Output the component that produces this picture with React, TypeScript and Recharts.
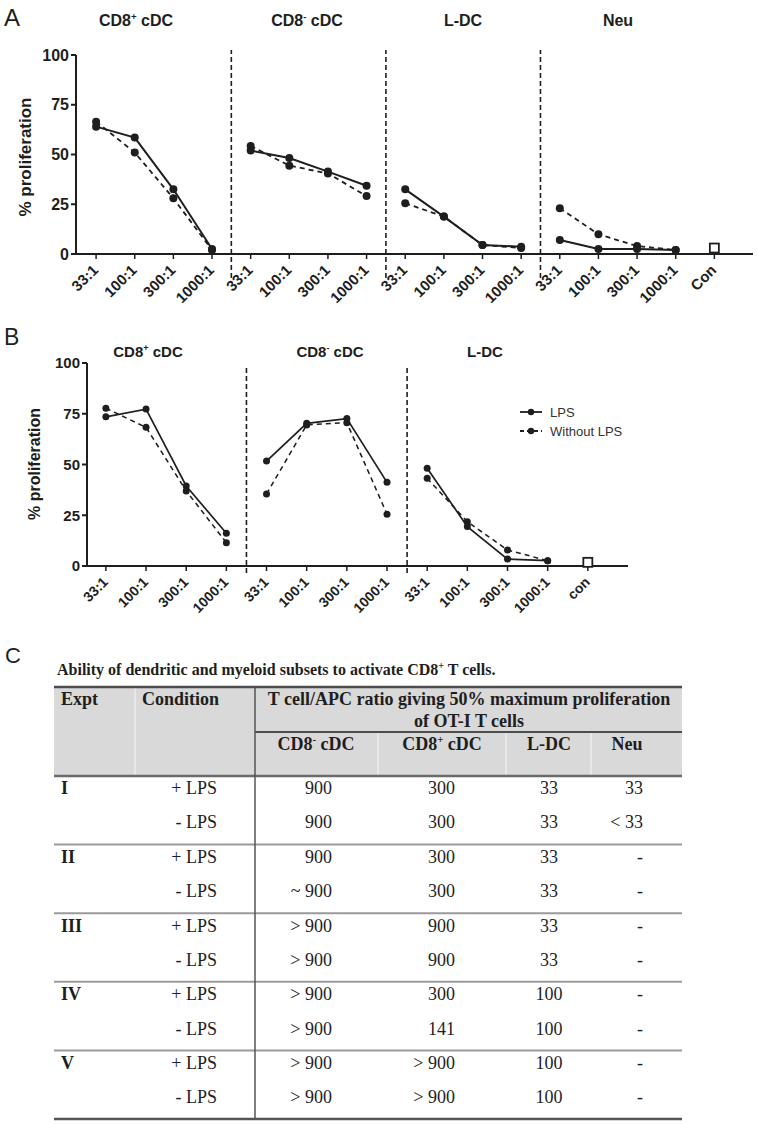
import React from "react";
import { ComposedChart, Line, Scatter, XAxis, YAxis, ReferenceLine } from "recharts";

const SANS = "'Liberation Sans', Arial, Helvetica, sans-serif";
const SERIF = "'Liberation Serif', 'Times New Roman', Times, serif";
const INK = "#1e1e1e";

// shared categories
const ratios = ["33:1", "100:1", "300:1", "1000:1"];
const yTicks = [0, 25, 50, 75, 100];

// panel A: % proliferation
const aSubsets = ["CD8+ cDC", "CD8- cDC", "L-DC", "Neu"];
const aLps = [
  [64, 58.5, 32.5, 2.5],
  [52, 48.2, 41.4, 34.3],
  [32.5, 18.8, 4.5, 3.7],
  [7, 2.5, 2.5, 2],
];
const aNoLps = [
  [66.5, 51, 28, 2],
  [54.3, 44.4, 40.5, 29.1],
  [25.5, 18.8, 4.5, 3],
  [23, 9.9, 4, 2],
];
const aControl = 3;
const aControlLabel = "Con";

// panel B
const bSubsets = ["CD8+ cDC", "CD8- cDC", "L-DC"];
const bLps = [
  [73.5, 77.3, 39.4, 16.1],
  [51.7, 70.3, 72.6, 41.2],
  [48.1, 19.4, 3.4, 2.6],
];
const bNoLps = [
  [77.7, 68.3, 37, 11.5],
  [35.5, 69.5, 70.6, 25.5],
  [43.2, 21.8, 7.9, 2.6],
];
const bControl = 1.8;
const bControlLabel = "con";
const legendLabels = ["LPS", "Without LPS"];

// panel C table
const tableTitle = "Ability of dendritic and myeloid subsets to activate CD8";
const headExpt = "Expt";
const headCondition = "Condition";
const headRatio = ["T cell/APC ratio giving 50% maximum proliferation", "of OT-I T cells"];
const tableRows = [
  ["I", "+ LPS", "900", "300", "33", "33"],
  ["", "- LPS", "900", "300", "33", "< 33"],
  ["II", "+ LPS", "900", "300", "33", "-"],
  ["", "- LPS", "~ 900", "300", "33", "-"],
  ["III", "+ LPS", "> 900", "900", "33", "-"],
  ["", "- LPS", "> 900", "900", "33", "-"],
  ["IV", "+ LPS", "> 900", "300", "100", "-"],
  ["", "- LPS", "> 900", "141", "100", "-"],
  ["V", "+ LPS", "> 900", "> 900", "100", "-"],
  ["", "- LPS", "> 900", "> 900", "100", "-"],
];

type PanelProps = {
  top: number;
  height: number;
  subsets: string[];
  lps: number[][];
  noLps: number[][];
  control: number;
  controlLabel: string;
  axisWidth: number;
  plotTop: number;
  plotBottom: number;
  right: number;
  domainStart: number;
  yFont: number;
  xFont: number;
  dotR: number;
  lineW: number;
  sep: [number, number];
};

function Panel(p: PanelProps) {
  const labels = [...p.subsets.flatMap(() => ratios), p.controlLabel];
  const ticks = labels.map((_, i) => i);
  const seps = p.subsets.slice(1).map((_, s) => (s + 1) * ratios.length - 0.5);
  const ctrl = [{ x: labels.length - 1, y: p.control }];
  const xh = 50;
  const tick = (props: any) => {
    const { x, y, payload } = props;
    const ax = x + 3;
    const ay = y + 10;
    return (
      <text
        x={ax}
        y={ay}
        transform={`rotate(-45 ${ax} ${ay})`}
        textAnchor="end"
        fontSize={p.xFont}
        fontWeight="bold"
        fontFamily={SANS}
        fill={INK}
      >
        {labels[payload.value]}
      </text>
    );
  };
  return (
    <div style={{ position: "absolute", left: 0, top: p.top }}>
      <ComposedChart
        width={757}
        height={p.height}
        margin={{ top: p.plotTop, right: p.right, left: 0, bottom: p.height - p.plotBottom - xh }}
      >
        <XAxis
          type="number"
          dataKey="x"
          domain={[p.domainStart, labels.length]}
          ticks={ticks}
          interval={0}
          height={xh}
          tick={tick}
          tickSize={5}
          axisLine={{ stroke: INK, strokeWidth: 2 }}
          tickLine={{ stroke: INK, strokeWidth: 1.5 }}
        />
        <YAxis
          type="number"
          domain={[0, 100]}
          ticks={yTicks}
          width={p.axisWidth}
          tickSize={5}
          tickMargin={2}
          axisLine={{ stroke: INK, strokeWidth: 2 }}
          tickLine={{ stroke: INK, strokeWidth: 2 }}
          tick={{ fontSize: p.yFont, fontWeight: "bold", fill: INK, fontFamily: SANS }}
        />
        {seps.map((s) => (
          <ReferenceLine
            key={s}
            segment={[
              { x: s, y: p.sep[0] },
              { x: s, y: p.sep[1] },
            ]}
            ifOverflow="visible"
            stroke={INK}
            strokeWidth={1.6}
            strokeDasharray="5 3"
          />
        ))}
        {p.subsets.map((name, s) => (
          <Line
            key={"n" + name}
            data={ratios.map((_, i) => ({ x: s * ratios.length + i, y: p.noLps[s][i] }))}
            dataKey="y"
            stroke={INK}
            strokeWidth={p.lineW * 0.9}
            strokeDasharray="5 4"
            dot={{ r: p.dotR, fill: INK, stroke: INK, strokeWidth: 0 }}
            isAnimationActive={false}
          />
        ))}
        {p.subsets.map((name, s) => (
          <Line
            key={"l" + name}
            data={ratios.map((_, i) => ({ x: s * ratios.length + i, y: p.lps[s][i] }))}
            dataKey="y"
            stroke={INK}
            strokeWidth={p.lineW}
            dot={{ r: p.dotR, fill: INK, stroke: INK, strokeWidth: 0 }}
            isAnimationActive={false}
          />
        ))}
        <Scatter
          data={ctrl}
          dataKey="y"
          isAnimationActive={false}
          shape={(sp: any) => (
            <rect x={sp.cx - 4.5} y={sp.cy - 4.5} width={9} height={9} fill="#fff" stroke={INK} strokeWidth={1.8} />
          )}
        />
      </ComposedChart>
    </div>
  );
}

function SupText({ x, y, text, size, weight, family, anchor = "middle" }: any) {
  const m = text.match(/^(CD8)([+-])(.*)$/);
  if (!m) {
    return (
      <text x={x} y={y} fontSize={size} fontWeight={weight} fontFamily={family} fill={INK} textAnchor={anchor}>
        {text}
      </text>
    );
  }
  const off = size * 0.4;
  return (
    <text x={x} y={y} fontSize={size} fontWeight={weight} fontFamily={family} fill={INK} textAnchor={anchor}>
      <tspan>{m[1]}</tspan>
      <tspan dy={-off} fontSize={size * 0.6}>
        {m[2]}
      </tspan>
      <tspan dy={off}>{m[3]}</tspan>
    </text>
  );
}

function Overlay() {
  const aTitleX = [136, 307, 463, 618];
  const bTitleX = [148, 330, 485];
  const groupTop = (g: number) => 776 + g * 68.6;
  const rowY = (r: number) => 788 + Math.floor(r / 2) * 68.75 + (r % 2) * 34.4 + 6;
  const colX = [61, 217, 332, 455, 549, 643];
  const colAnchor = ["start", "end", "end", "end", "middle", "end"];
  const subHeads = ["CD8- cDC", "CD8+ cDC", "L-DC", "Neu"];
  const subHeadX = [316, 442, 549, 627];
  return (
    <svg width={757} height={1124} style={{ position: "absolute", left: 0, top: 0, pointerEvents: "none" }}>
      {/* panel letters */}
      <text x={4} y={26} fontSize={24} fontFamily={SANS} fill={INK}>A</text>
      <text x={4} y={345} fontSize={23} fontFamily={SANS} fill={INK}>B</text>
      <text x={5} y={663} fontSize={22} fontFamily={SANS} fill={INK}>C</text>

      {/* panel titles */}
      {aSubsets.map((s, i) => (
        <SupText key={s} x={aTitleX[i]} y={26} text={s} size={16} weight="bold" family={SANS} />
      ))}
      {bSubsets.map((s, i) => (
        <SupText key={s} x={bTitleX[i]} y={357} text={s} size={15} weight="bold" family={SANS} />
      ))}

      {/* axis titles */}
      <text x={0} y={0} transform="translate(31 157) rotate(-90)" textAnchor="middle" fontSize={17} fontWeight="bold" fontFamily={SANS} fill={INK}>
        % proliferation
      </text>
      <text x={0} y={0} transform="translate(40 464) rotate(-90)" textAnchor="middle" fontSize={16} fontWeight="bold" fontFamily={SANS} fill={INK}>
        % proliferation
      </text>

      {/* legend B */}
      {legendLabels.map((l, i) => {
        const y = 412 + i * 19;
        return (
          <g key={l}>
            <line x1={520} x2={542} y1={y} y2={y} stroke={INK} strokeWidth={1.8} strokeDasharray={i ? "4 3" : undefined} />
            <circle cx={531} cy={y} r={3.2} fill={INK} />
            <text x={550} y={y + 5} fontSize={13} fontFamily={SANS} fill="#333">{l}</text>
          </g>
        );
      })}

      {/* table */}
      <text x={57} y={675} fontSize={16} fontWeight="bold" fontFamily={SERIF} fill={INK}>
        <tspan>{tableTitle}</tspan>
        <tspan dy={-6} fontSize={10}>+</tspan>
        <tspan dy={6}> T cells.</tspan>
      </text>
      <rect x={54} y={687} width={628} height={89} fill="#d9d9d9" />
      <line x1={135} x2={135} y1={688} y2={775} stroke="#ececec" strokeWidth={1.5} />
      {[378, 506, 591].map((x) => (
        <line key={x} x1={x} x2={x} y1={733} y2={775} stroke="#ececec" strokeWidth={1.5} />
      ))}
      <line x1={54} x2={682} y1={687} y2={687} stroke="#4d4d4d" strokeWidth={2.5} />
      <line x1={255} x2={682} y1={732} y2={732} stroke="#4d4d4d" strokeWidth={2} />
      {[0, 1, 2, 3, 4, 5].map((g) => (
        <line
          key={g}
          x1={54}
          x2={682}
          y1={groupTop(g)}
          y2={groupTop(g)}
          stroke={g === 0 ? "#6a6a6a" : g === 5 ? "#555" : "#9a9a9a"}
          strokeWidth={g === 0 || g === 5 ? 2.5 : 2}
        />
      ))}
      <line x1={255} x2={255} y1={687} y2={1119} stroke="#555" strokeWidth={1.5} />

      <text x={61} y={705} fontSize={18} fontWeight="bold" fontFamily={SERIF} fill={INK}>{headExpt}</text>
      <text x={142} y={705} fontSize={18} fontWeight="bold" fontFamily={SERIF} fill={INK}>{headCondition}</text>
      <text x={469} y={705} textAnchor="middle" fontSize={18} fontWeight="bold" fontFamily={SERIF} fill={INK}>{headRatio[0]}</text>
      <text x={469} y={727} textAnchor="middle" fontSize={18} fontWeight="bold" fontFamily={SERIF} fill={INK}>{headRatio[1]}</text>
      {subHeads.map((s, i) => (
        <SupText key={s} x={subHeadX[i]} y={750} text={s} size={18} weight="bold" family={SERIF} />
      ))}

      {tableRows.map((row, r) =>
        row.map((cell, c) =>
          cell ? (
            <text
              key={r + "-" + c}
              x={colX[c]}
              y={rowY(r)}
              textAnchor={colAnchor[c] as any}
              fontSize={18}
              fontWeight={c === 0 ? "bold" : "normal"}
              fontFamily={SERIF}
              fill={INK}
            >
              {cell}
            </text>
          ) : null
        )
      )}
    </svg>
  );
}

export default function App() {
  return (
    <div style={{ position: "absolute", left: 0, top: 0, width: 757, height: 1124, background: "#fff" }}>
      <Panel
        top={0}
        height={310}
        subsets={aSubsets}
        lps={aLps}
        noLps={aNoLps}
        control={aControl}
        controlLabel={aControlLabel}
        axisWidth={76}
        plotTop={55}
        plotBottom={254}
        right={4}
        domainStart={-0.52}
        yFont={16}
        xFont={15}
        dotR={4}
        lineW={2}
        sep={[-12, 102.5]}
      />
      <Panel
        top={320}
        height={310}
        subsets={bSubsets}
        lps={bLps}
        noLps={bNoLps}
        control={bControl}
        controlLabel={bControlLabel}
        axisWidth={87}
        plotTop={43}
        plotBottom={246}
        right={129}
        domainStart={-0.47}
        yFont={15}
        xFont={14}
        dotR={3.5}
        lineW={1.7}
        sep={[-3.4, 98]}
      />
      <Overlay />
    </div>
  );
}
